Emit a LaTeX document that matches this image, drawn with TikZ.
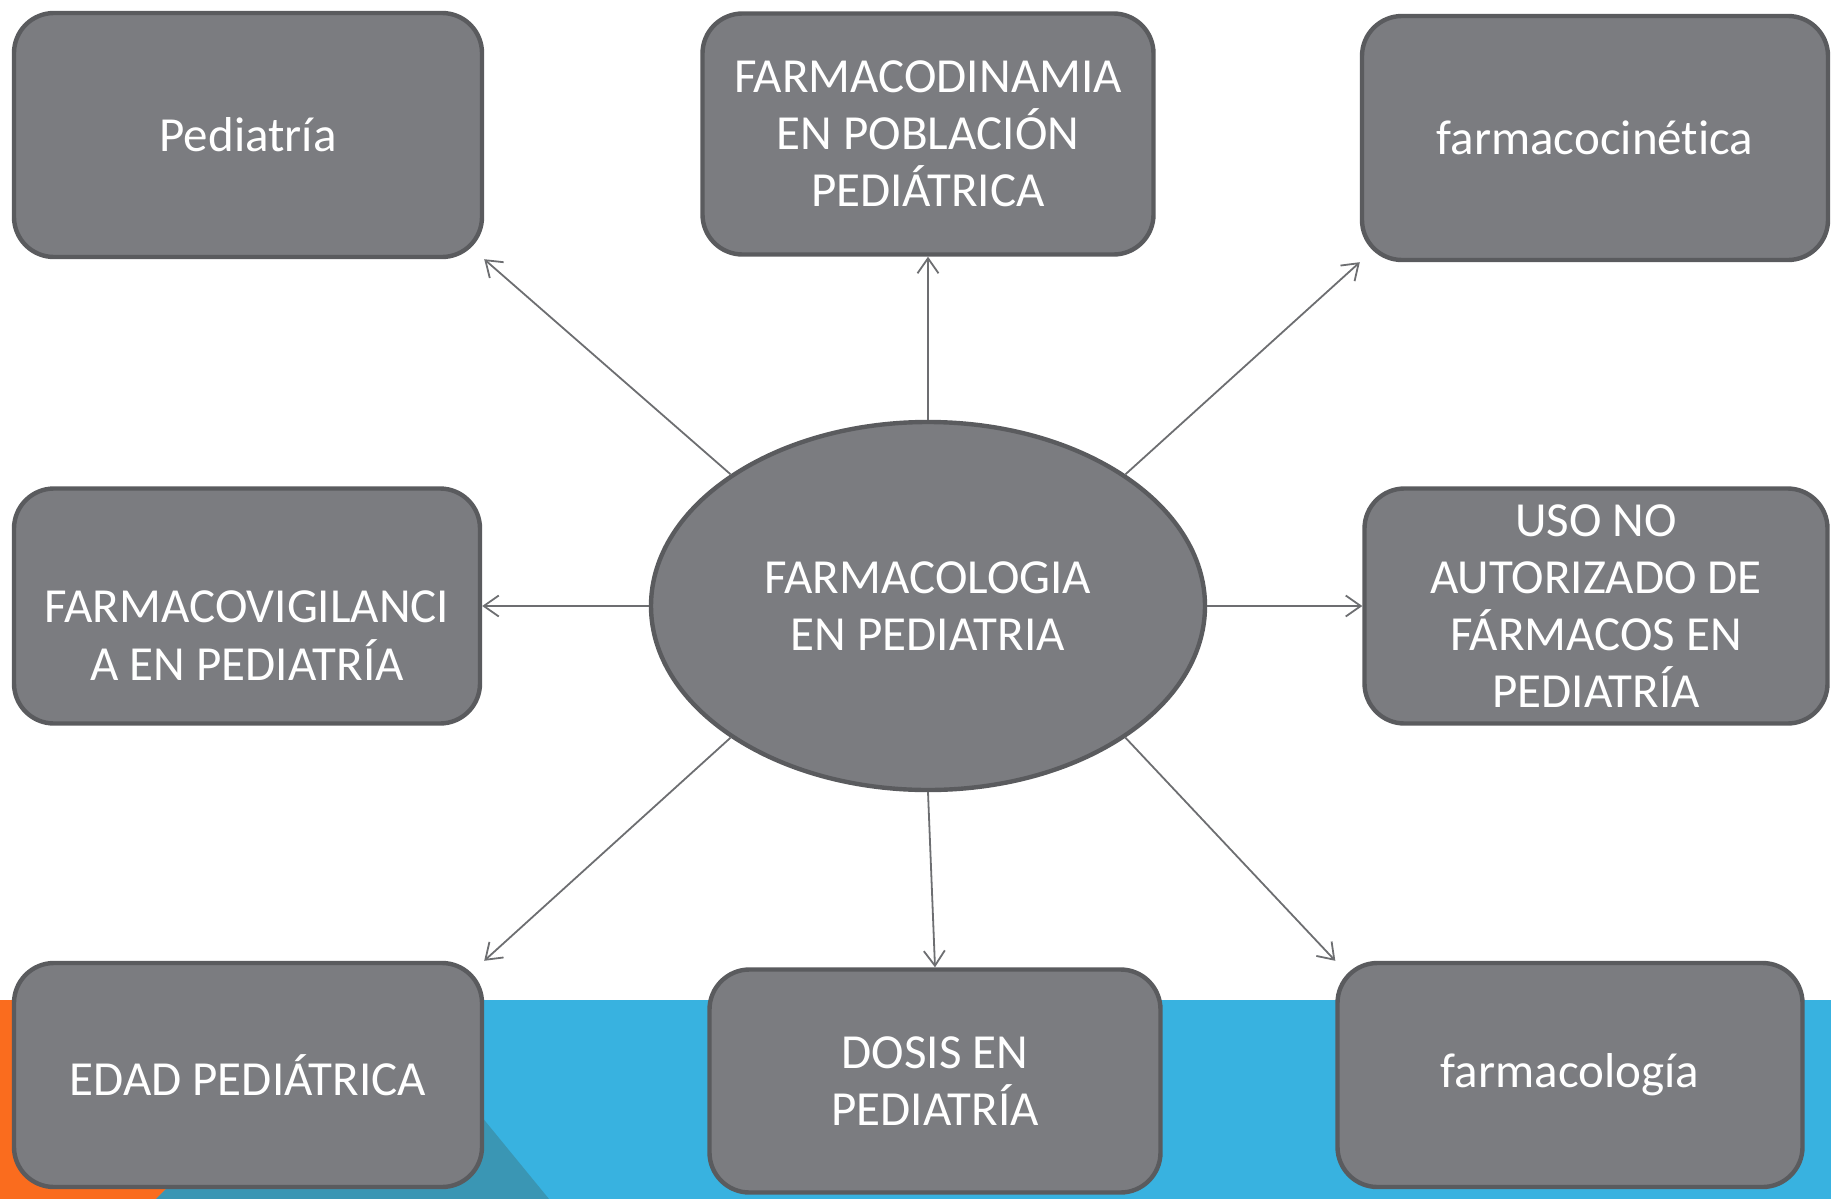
\documentclass[tikz,border=0pt]{standalone}
\usepackage{fontspec}
\setmainfont{Carlito}[Ligatures=NoCommon]
\usetikzlibrary{arrows.meta, shapes.geometric}
\definecolor{cajagris}{HTML}{7B7C80}
\definecolor{bordegris}{HTML}{5A5B5E}
\definecolor{flechagris}{HTML}{6D6E71}
\definecolor{bandaazul}{HTML}{38B2E0}
\definecolor{bandanaranja}{HTML}{FA6C1E}
\definecolor{bandaverde}{HTML}{3A96B4}
\tikzset{
  align=center,
  rotulo/.style={draw=bordegris, fill=cajagris, line width=2.2pt, inner sep=0pt, text=white, font=\fontsize{24.5}{28.6}\selectfont},
  caja/.style={rotulo, rectangle, rounded corners=20pt},
  elipse/.style={rotulo, ellipse, minimum width=277pt, minimum height=184pt},
  pto/.style={-{Straight Barb[length=7.5pt,width=10.5pt]}, line width=0.9pt, flechagris}
}
\newcommand{\bajar}[1]{\raisebox{-17pt}[\height][\depth]{\begin{tabular}{@{}c@{}}#1\end{tabular}}}

\begin{document}
\begin{tikzpicture}[x=0.5pt, y=-0.5pt]
    \useasboundingbox (0,0) rectangle (1831,1199);
    \fill[bandaazul] (0,1000) rectangle (1831,1199);
    \fill[bandanaranja] (0,1000) -- (355,1000) -- (156,1199) -- (0,1199) -- cycle;
    \fill[bandaverde] (355,1000) -- (386,1000) -- (549,1199) -- (156,1199) -- cycle;

    \node[elipse] (farmped) at (928,606) {FARMACOLOGIA\\EN PEDIATRIA};

    \node[caja, minimum width=234pt, minimum height=122pt] (pediatria) at (248,135) {Pediatría};
    \node[caja, minimum width=225.5pt, minimum height=120.5pt] (dinamia) at (928,134) {FARMACODINAMIA\\EN POBLACIÓN\\PEDIÁTRICA};
    \node[caja, minimum width=233pt, minimum height=122pt] (cinetica) at (1595,138) {farmacocinética};
    \node[caja, minimum width=233pt, minimum height=117.5pt] (vigilancia) at (247,606) {\bajar{FARMACOVIGILANCI\\A EN PEDIATRÍA}};
    \node[caja, minimum width=231.5pt, minimum height=117.5pt] (usono) at (1596,606) {USO NO\\AUTORIZADO DE\\FÁRMACOS EN\\PEDIATRÍA};
    \node[caja, minimum width=234pt, minimum height=112pt] (edad) at (248,1075) {EDAD PEDIÁTRICA};
    \node[caja, minimum width=225.5pt, minimum height=111.5pt] (dosis) at (935,1081) {DOSIS EN\\PEDIATRÍA};
    \node[caja, minimum width=232.5pt, minimum height=112pt] (farmacologia) at (1570,1075) {farmacología};

    \draw[pto] (farmped.north west) -- (pediatria.south east);
    \draw[pto] (farmped.north) -- (dinamia.south);
    \draw[pto] (farmped.north east) -- (cinetica.south west);
    \draw[pto] (farmped.west) -- (vigilancia.east);
    \draw[pto] (farmped.east) -- (usono.west);
    \draw[pto] (farmped.south west) -- (edad.north east);
    \draw[pto] (farmped.south) -- (dosis.north);
    \draw[pto] (farmped.south east) -- (farmacologia.north west);
  \end{tikzpicture}
\end{document}
